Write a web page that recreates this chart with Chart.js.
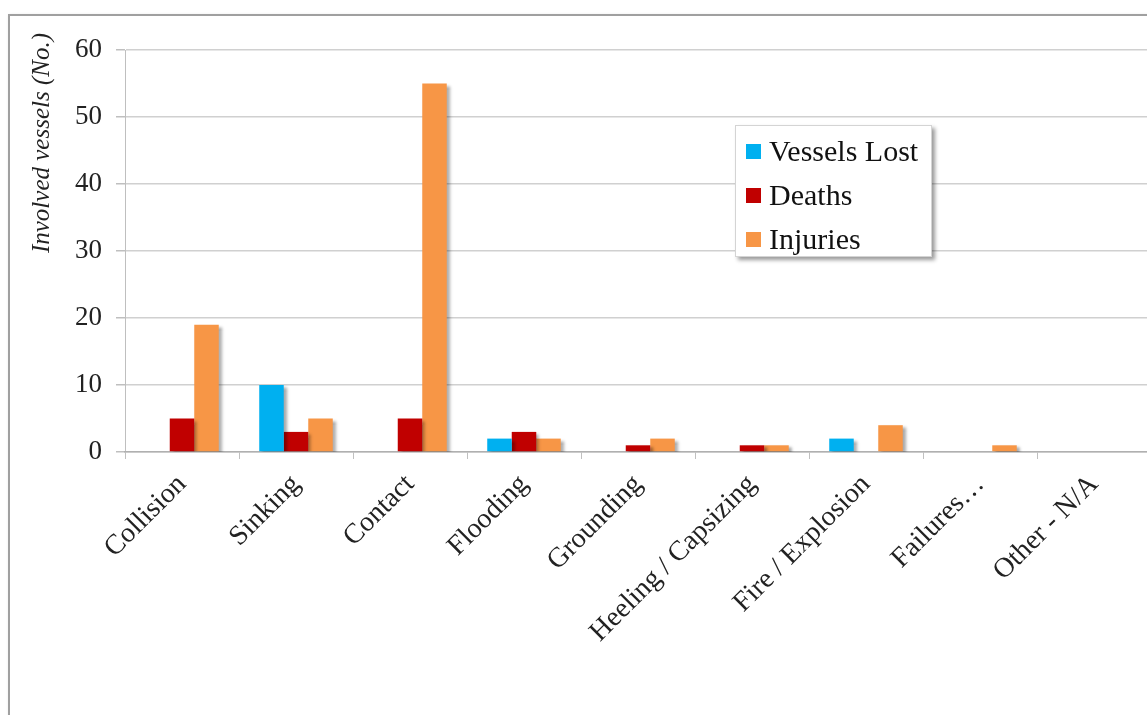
<!DOCTYPE html>
<html>
<head>
<meta charset="utf-8">
<script src="https://cdn.jsdelivr.net/npm/chart.js@4.4.1/dist/chart.umd.min.js"></script>
<style>
  html, body { margin: 0; padding: 0; background: #fff; overflow: hidden; }
  #wrap { position: relative; width: 1147px; height: 715px; overflow: hidden; }
  #frame { position: absolute; left: 8px; top: 14px; width: 1300px; height: 900px;
           border: 2px solid #a0a0a0; box-shadow: 1px 1px 3px rgba(0,0,0,0.15); }
  #box { position: absolute; left: 0; top: 0; width: 1158px; height: 715px; }
  #legend { position: absolute; left: 735px; top: 125px; width: 197px; height: 132px;
            background: #fff; border: 1px solid #d4d4d4;
            box-shadow: 3px 3px 4px rgba(0,0,0,0.4); font-family: "Liberation Serif", serif;
            font-size: 30px; color: #111; padding-top: 3px; box-sizing: border-box; }
  #legend .row { display: flex; align-items: center; height: 44px; padding-left: 10px; white-space: nowrap; }
  #legend .sw { width: 15px; height: 15px; margin-right: 8px; flex: none; }
</style>
</head>
<body>
<div id="wrap">
  <div id="frame"></div>
  <div id="box"><canvas id="chartCauses"></canvas></div>
  <div id="legend"></div>
</div>
<script>
const CATEGORIES = ['Collision', 'Sinking', 'Contact', 'Flooding', 'Grounding',
    'Heeling / Capsizing', 'Fire / Explosion', 'Failures…', 'Other - N/A'];
const VESSELS_LOST = [0, 10, 0, 2, 0, 0, 2, 0, 0];
const DEATHS = [5, 3, 5, 3, 1, 1, 0, 0, 0];
const INJURIES = [19, 5, 55, 2, 2, 1, 4, 1, 0];
const Y_TICKS = [0, 10, 20, 30, 40, 50, 60];
const Y_TITLE = 'Involved vessels (No.)';

const SERIES = [
    { label: 'Vessels Lost', data: VESSELS_LOST, color: '#00B0F0' },
    { label: 'Deaths', data: DEATHS, color: '#C00000' },
    { label: 'Injuries', data: INJURIES, color: '#F79646' },
];

// soft drop shadow under the bars
const barShadow = {
    id: 'barShadow',
    beforeDatasetsDraw(chart) {
        const ctx = chart.ctx;
        ctx.save();
        ctx.shadowColor = 'rgba(0,0,0,0.35)';
        ctx.shadowBlur = 3;
        ctx.shadowOffsetX = 3;
        ctx.shadowOffsetY = 2;
    },
    afterDatasetsDraw(chart) {
        chart.ctx.restore();
    },
};

// y axis title sits near the top of the axis
const yTitle = {
    id: 'yTitle',
    afterDraw(chart) {
        const ctx = chart.ctx;
        const area = chart.chartArea;
        ctx.save();
        ctx.translate(area.left - 83, area.top - 17);
        ctx.rotate(-Math.PI / 2);
        ctx.font = 'italic 25px "Liberation Serif"';
        ctx.fillStyle = '#222';
        ctx.textAlign = 'right';
        ctx.textBaseline = 'middle';
        ctx.fillText(Y_TITLE, 0, 0);
        ctx.restore();
    },
};

const chart = new Chart(document.getElementById('chartCauses'), {
    type: 'bar',
    data: {
        labels: CATEGORIES,
        datasets: SERIES.map(function (s) {
            return {
                label: s.label,
                data: s.data,
                backgroundColor: s.color,
                borderWidth: 0,
                categoryPercentage: 0.645,
                barPercentage: 1,
            };
        }),
    },
    options: {
        responsive: true,
        maintainAspectRatio: false,
        animation: false,
        layout: { padding: { top: 50, right: 7, left: 0, bottom: 0 } },
        plugins: { legend: { display: false }, tooltip: { enabled: false } },
        scales: {
            y: {
                min: 0,
                max: 60,
                afterBuildTicks(scale) { scale.ticks = Y_TICKS.map(function (v) { return { value: v }; }); },
                afterFit(scale) { scale.width = 125; },
                border: { display: true, color: '#bfbfbf', width: 1 },
                grid: { color: '#d0d0d0', lineWidth: 1.5, tickLength: 9, tickColor: '#bfbfbf' },
                ticks: { color: '#222', padding: 14, font: { family: 'Liberation Serif', size: 27 } },
            },
            x: {
                afterFit(scale) { scale.height = 715 - 50 - 402; },
                border: { display: true, color: '#b0b0b0', width: 1.5 },
                grid: { offset: true, drawOnChartArea: false, tickLength: 7, color: '#c0c0c0' },
                ticks: {
                    color: '#222',
                    maxRotation: 45,
                    minRotation: 45,
                    autoSkip: false,
                    padding: 9,
                    font: { family: 'Liberation Serif', size: 28 },
                },
            },
        },
    },
    plugins: [barShadow, yTitle],
});

// legend box drawn over the chart area
const legendEl = document.getElementById('legend');
SERIES.forEach(function (s) {
    const row = document.createElement('div');
    row.className = 'row';
    const sw = document.createElement('span');
    sw.className = 'sw';
    sw.style.background = s.color;
    row.appendChild(sw);
    row.appendChild(document.createTextNode(s.label));
    legendEl.appendChild(row);
});
</script>
</body>
</html>
